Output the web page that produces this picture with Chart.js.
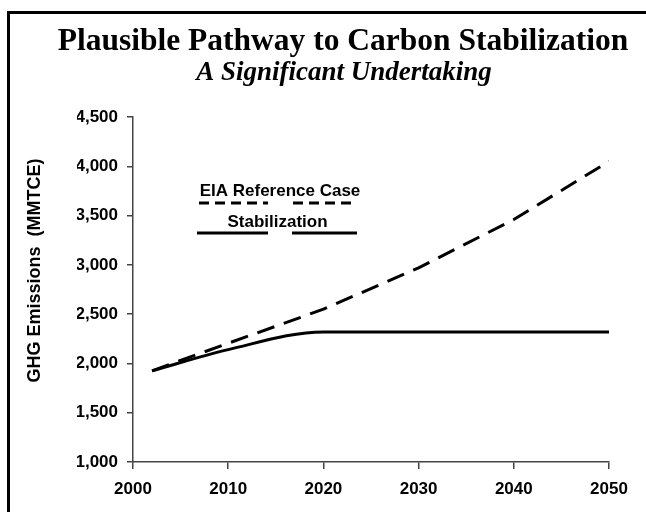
<!DOCTYPE html>
<html>
<head>
<meta charset="utf-8">
<script src="https://cdn.jsdelivr.net/npm/chart.js@4.4.1/dist/chart.umd.min.js"></script>
<style>
  html, body { margin: 0; padding: 0; background: #fff; overflow: hidden; }
  #frame { position: absolute; left: 7px; top: 11px; width: 720px; height: 560px;
           border-left: 3px solid #000; border-top: 3px solid #000; }
  #chart { position: absolute; left: 10px; top: 14px; }
</style>
</head>
<body>
<div id="frame"></div>
<canvas id="chart" width="636" height="498"></canvas>
<script>
// values
const years = [2002, 2010, 2020, 2030, 2040, 2050];
const eiaReference = [1925, 2205, 2550, 2970, 3460, 4050];
const stabilization = [1925, 2140, 2320, 2320, 2320, 2320];
const seriesNames = ['EIA Reference Case', 'Stabilization'];
const xTicks = [2000, 2010, 2020, 2030, 2040, 2050];
const yTicks = [1000, 1500, 2000, 2500, 3000, 3500, 4000, 4500];

const titleText = 'Plausible Pathway to Carbon Stabilization';
const subtitleText = 'A Significant Undertaking';
const yTitleText = 'GHG Emissions  (MMTCE)';

const sans = '"Liberation Sans", Arial, Helvetica, sans-serif';
const serif = '"Liberation Serif", "Times New Roman", serif';

const toPoints = vals => years.map((yr, i) => ({ x: yr, y: vals[i] }));

// slide heading, drawn by hand because the slide is cropped on the right
const slideTitle = {
    id: 'slideTitle',
    afterDraw(chart) {
        const ctx = chart.ctx;
        ctx.save();
        ctx.fillStyle = '#000';
        ctx.textAlign = 'center';
        ctx.textBaseline = 'alphabetic';
        ctx.font = 'bold 31.5px ' + serif;
        ctx.fillText(titleText, 333, 36);
        ctx.font = 'italic bold 27px ' + serif;
        ctx.fillText(subtitleText, 334, 66);
        ctx.restore();
    }
};

// legend sits inside the plot, text above a split sample line
const inlineLegend = {
    id: 'inlineLegend',
    afterDatasetsDraw(chart) {
        const { ctx, chartArea: a } = chart;
        const rows = [
            { ds: 0, cx: 147, textY: 79, lineY: 86, segs: [[66, 135], [160, 220]] },
            { ds: 1, cx: 144.5, textY: 110, lineY: 116, segs: [[64, 135], [159, 224]] }
        ];
        ctx.save();
        ctx.font = 'bold 17px ' + sans;
        ctx.fillStyle = '#000';
        ctx.strokeStyle = '#000';
        ctx.lineWidth = 3;
        ctx.textAlign = 'center';
        ctx.textBaseline = 'alphabetic';
        rows.forEach(r => {
            const ds = chart.data.datasets[r.ds];
            ctx.fillText(ds.label, a.left + r.cx, a.top + r.textY);
            ctx.setLineDash(ds.borderDash && ds.borderDash.length ? [10, 6] : []);
            r.segs.forEach(s => {
                ctx.beginPath();
                ctx.moveTo(a.left + s[0], a.top + r.lineY);
                ctx.lineTo(a.left + s[1], a.top + r.lineY);
                ctx.stroke();
            });
        });
        ctx.restore();
    }
};

// y title drawn by hand so it can sit a bit above the axis middle
const yTitle = {
    id: 'yTitle',
    afterDraw(chart) {
        const { ctx, chartArea: a } = chart;
        ctx.save();
        ctx.translate(25, (a.top + a.bottom) / 2 - 19);
        ctx.rotate(-Math.PI / 2);
        ctx.font = 'bold 18px ' + sans;
        ctx.fillStyle = '#000';
        ctx.textAlign = 'center';
        ctx.textBaseline = 'middle';
        ctx.fillText(yTitleText, 0, 0);
        ctx.restore();
    }
};

new Chart(document.getElementById('chart'), {
    type: 'line',
    data: {
        datasets: [{
            label: seriesNames[0],
            data: toPoints(eiaReference),
            borderColor: '#000',
            borderWidth: 3,
            borderDash: [18, 10],
            pointRadius: 0,
            tension: 0,
            fill: false
        }, {
            label: seriesNames[1],
            data: toPoints(stabilization),
            borderColor: '#000',
            borderWidth: 3,
            pointRadius: 0,
            cubicInterpolationMode: 'monotone',
            fill: false
        }]
    },
    options: {
        responsive: false,
        animation: false,
        layout: { padding: { left: 67, right: 37, top: 103, bottom: 0 } },
        plugins: {
            legend: { display: false },
            tooltip: { enabled: false }
        },
        scales: {
            x: {
                type: 'linear',
                min: xTicks[0],
                max: xTicks[xTicks.length - 1],
                afterBuildTicks: s => { s.ticks = xTicks.map(v => ({ value: v })); },
                afterFit: s => { s.height = 50; },
                border: { color: '#444', width: 1.5 },
                grid: { drawOnChartArea: false, color: '#444', lineWidth: 1.5, tickLength: 7 },
                ticks: {
                    color: '#000',
                    padding: 10,
                    font: { family: sans, size: 17, weight: 'bold' },
                    callback: v => String(v)
                }
            },
            y: {
                min: yTicks[0],
                max: yTicks[yTicks.length - 1],
                afterBuildTicks: s => { s.ticks = yTicks.map(v => ({ value: v })); },
                afterFit: s => { s.width = 56; },
                border: { color: '#444', width: 1.5 },
                grid: { drawOnChartArea: false, color: '#444', lineWidth: 1.5, tickLength: 6 },
                ticks: {
                    color: '#000',
                    padding: 9,
                    font: { family: sans, size: 17, weight: 'bold' },
                    callback: v => v.toLocaleString('en-US')
                }
            }
        }
    },
    plugins: [slideTitle, inlineLegend, yTitle]
});
</script>
</body>
</html>
